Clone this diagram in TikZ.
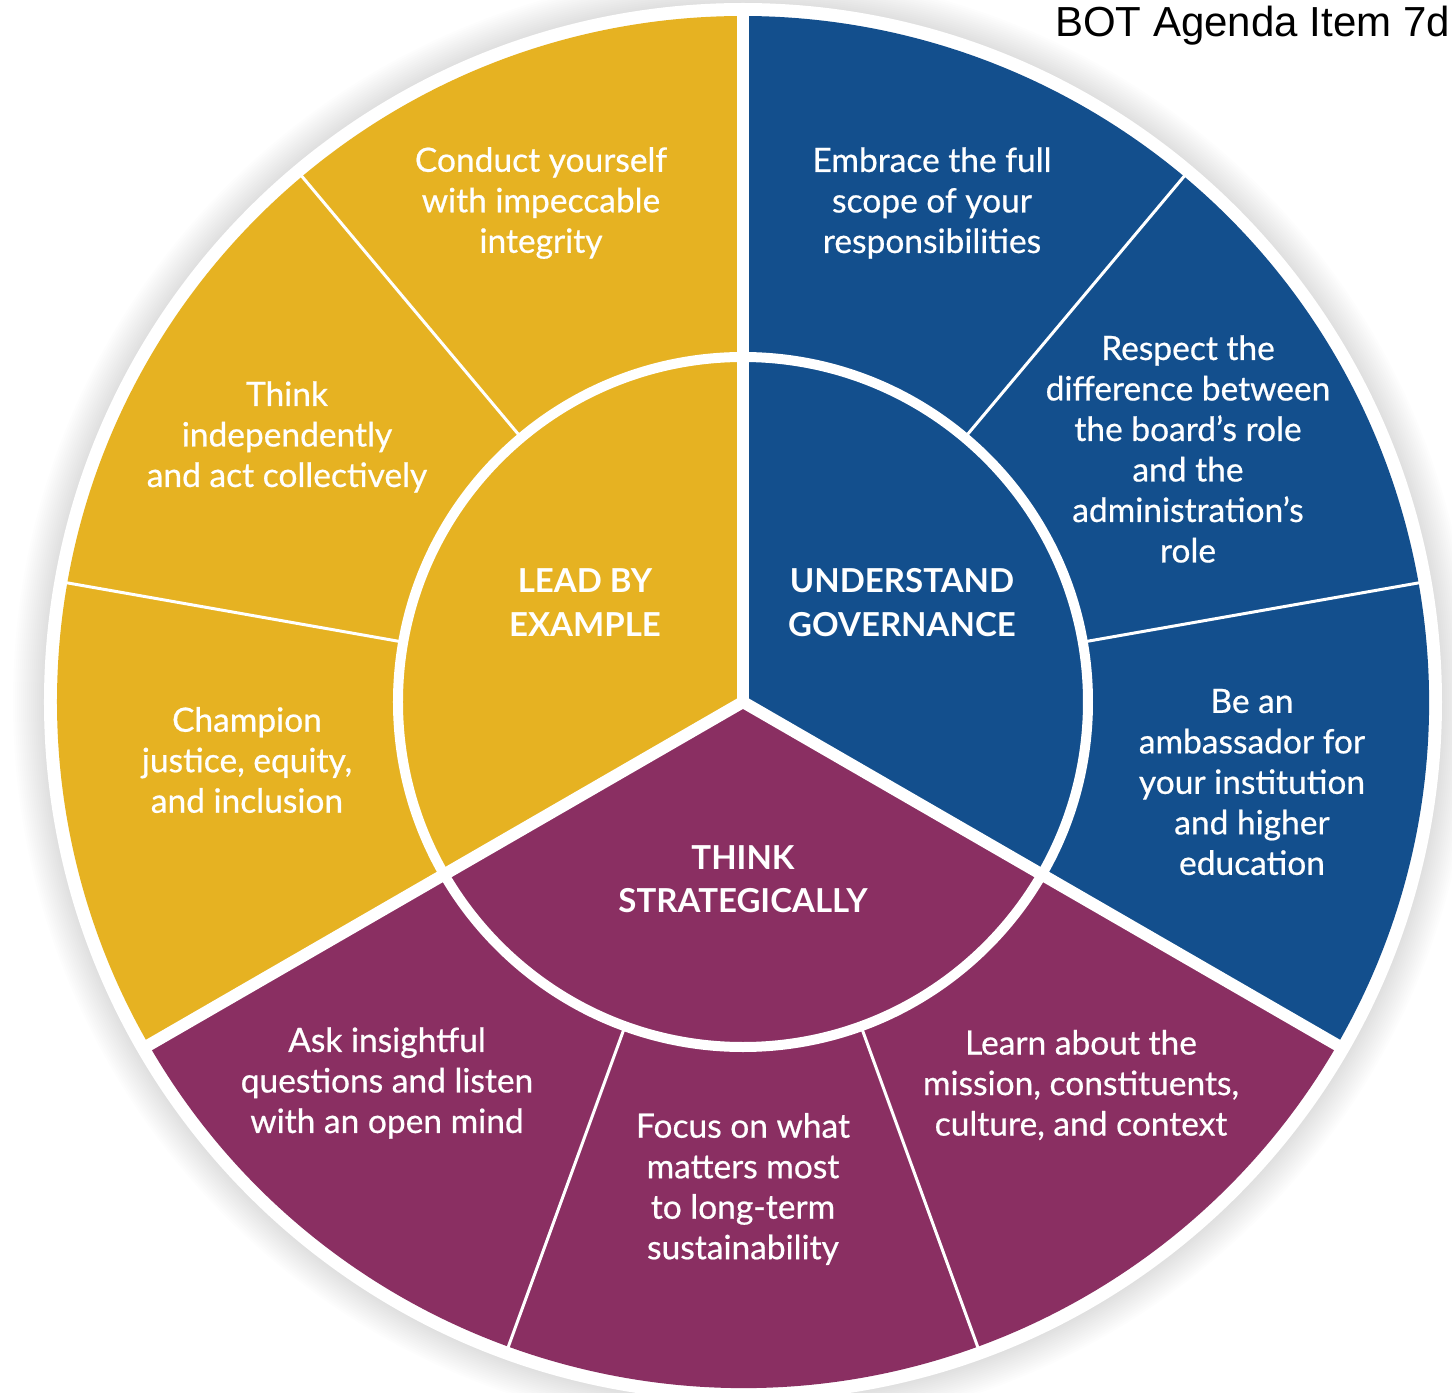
\documentclass[tikz,border=0pt]{standalone}
\usepackage{fontspec}
\setmainfont{Lato}
\newfontfamily\labelfont[FakeBold=0.6]{Lato}
\newfontfamily\headfont{Liberation Sans}
\definecolor{ylw}{HTML}{E6B222}
\definecolor{blu}{HTML}{134F8D}
\definecolor{plm}{HTML}{8A2F62}
\begin{document}
\begin{tikzpicture}[x=1pt,y=1pt,
  sub/.style={text=white, align=center, inner sep=0pt, font=\labelfont\fontsize{33.5}{40.5}\selectfont},
  hub/.style={text=white, align=center, inner sep=0pt, font=\bfseries\fontsize{33}{43.5}\selectfont},
  thin divider/.style={white, line width=3pt},
  thick divider/.style={white, line width=12pt},
]
\useasboundingbox (-743,-691) rectangle (709,702);
% soft shadow around the wheel
\foreach \r in {730,728,...,700} \fill[black, opacity=0.006] (0,0) circle[radius=\r pt];
\fill[white] (0,0) circle[radius=699pt];
% three main sectors
\fill[ylw] (0,0) -- (90:686pt) arc[start angle=90, end angle=210, radius=686pt] -- cycle;
\fill[blu] (0,0) -- (-30:686pt) arc[start angle=-30, end angle=90, radius=686pt] -- cycle;
\fill[plm] (0,0) -- (210:686pt) arc[start angle=210, end angle=330, radius=686pt] -- cycle;
% thin dividers of the outer ring
\foreach \a in {10,50,130,170,250,290} \draw[thin divider] (\a:345pt) -- (\a:690pt);
% inner ring
\draw[white, line width=10pt] (0,0) circle[radius=345pt];
% main separators
\foreach \a in {90,210,330} \draw[thick divider] (0,0) -- (\a:690pt);

% header
\node[anchor=base east, inner sep=0pt, font=\headfont\fontsize{42}{50}\selectfont] (agenda) at (707,665) {BOT Agenda Item 7d};

% hub labels
\node[hub] (lead) at (-158,99.5) {LEAD BY\\EXAMPLE};
\node[hub] (gov) at (159,99.5) {UNDERSTAND\\GOVERNANCE};
\node[hub] (strat) at (0,-177) {THINK\\STRATEGICALLY};

% outer labels
\node[sub] (integrity) at (-202,499) {Conduct yourself\\with impeccable\\integrity};
\node[sub] (think) at (-456,265) {Think\\independently\\and act collectively};
\node[sub] (justice) at (-496,-58) {Champion\\justice, equity,\\and inclusion};
\node[sub] (scope) at (189,499) {Embrace the full\\scope of your\\responsibilities};
\node[sub] (respect) at (445,253) {Respect the\\difference between\\the board’s role\\and the\\administration’s\\role};
\node[sub] (ambassador) at (509,-80) {Be an\\ambassador for\\your institution\\and higher\\education};
\node[sub] (ask) at (-356,-381) {Ask insightful\\questions and listen\\with an open mind};
\node[sub] (focus) at (0,-487) {Focus on what\\matters most\\to long-term\\sustainability};
\node[sub] (learn) at (338,-383) {Learn about the\\mission, constituents,\\culture, and context};
\end{tikzpicture}
\end{document}
